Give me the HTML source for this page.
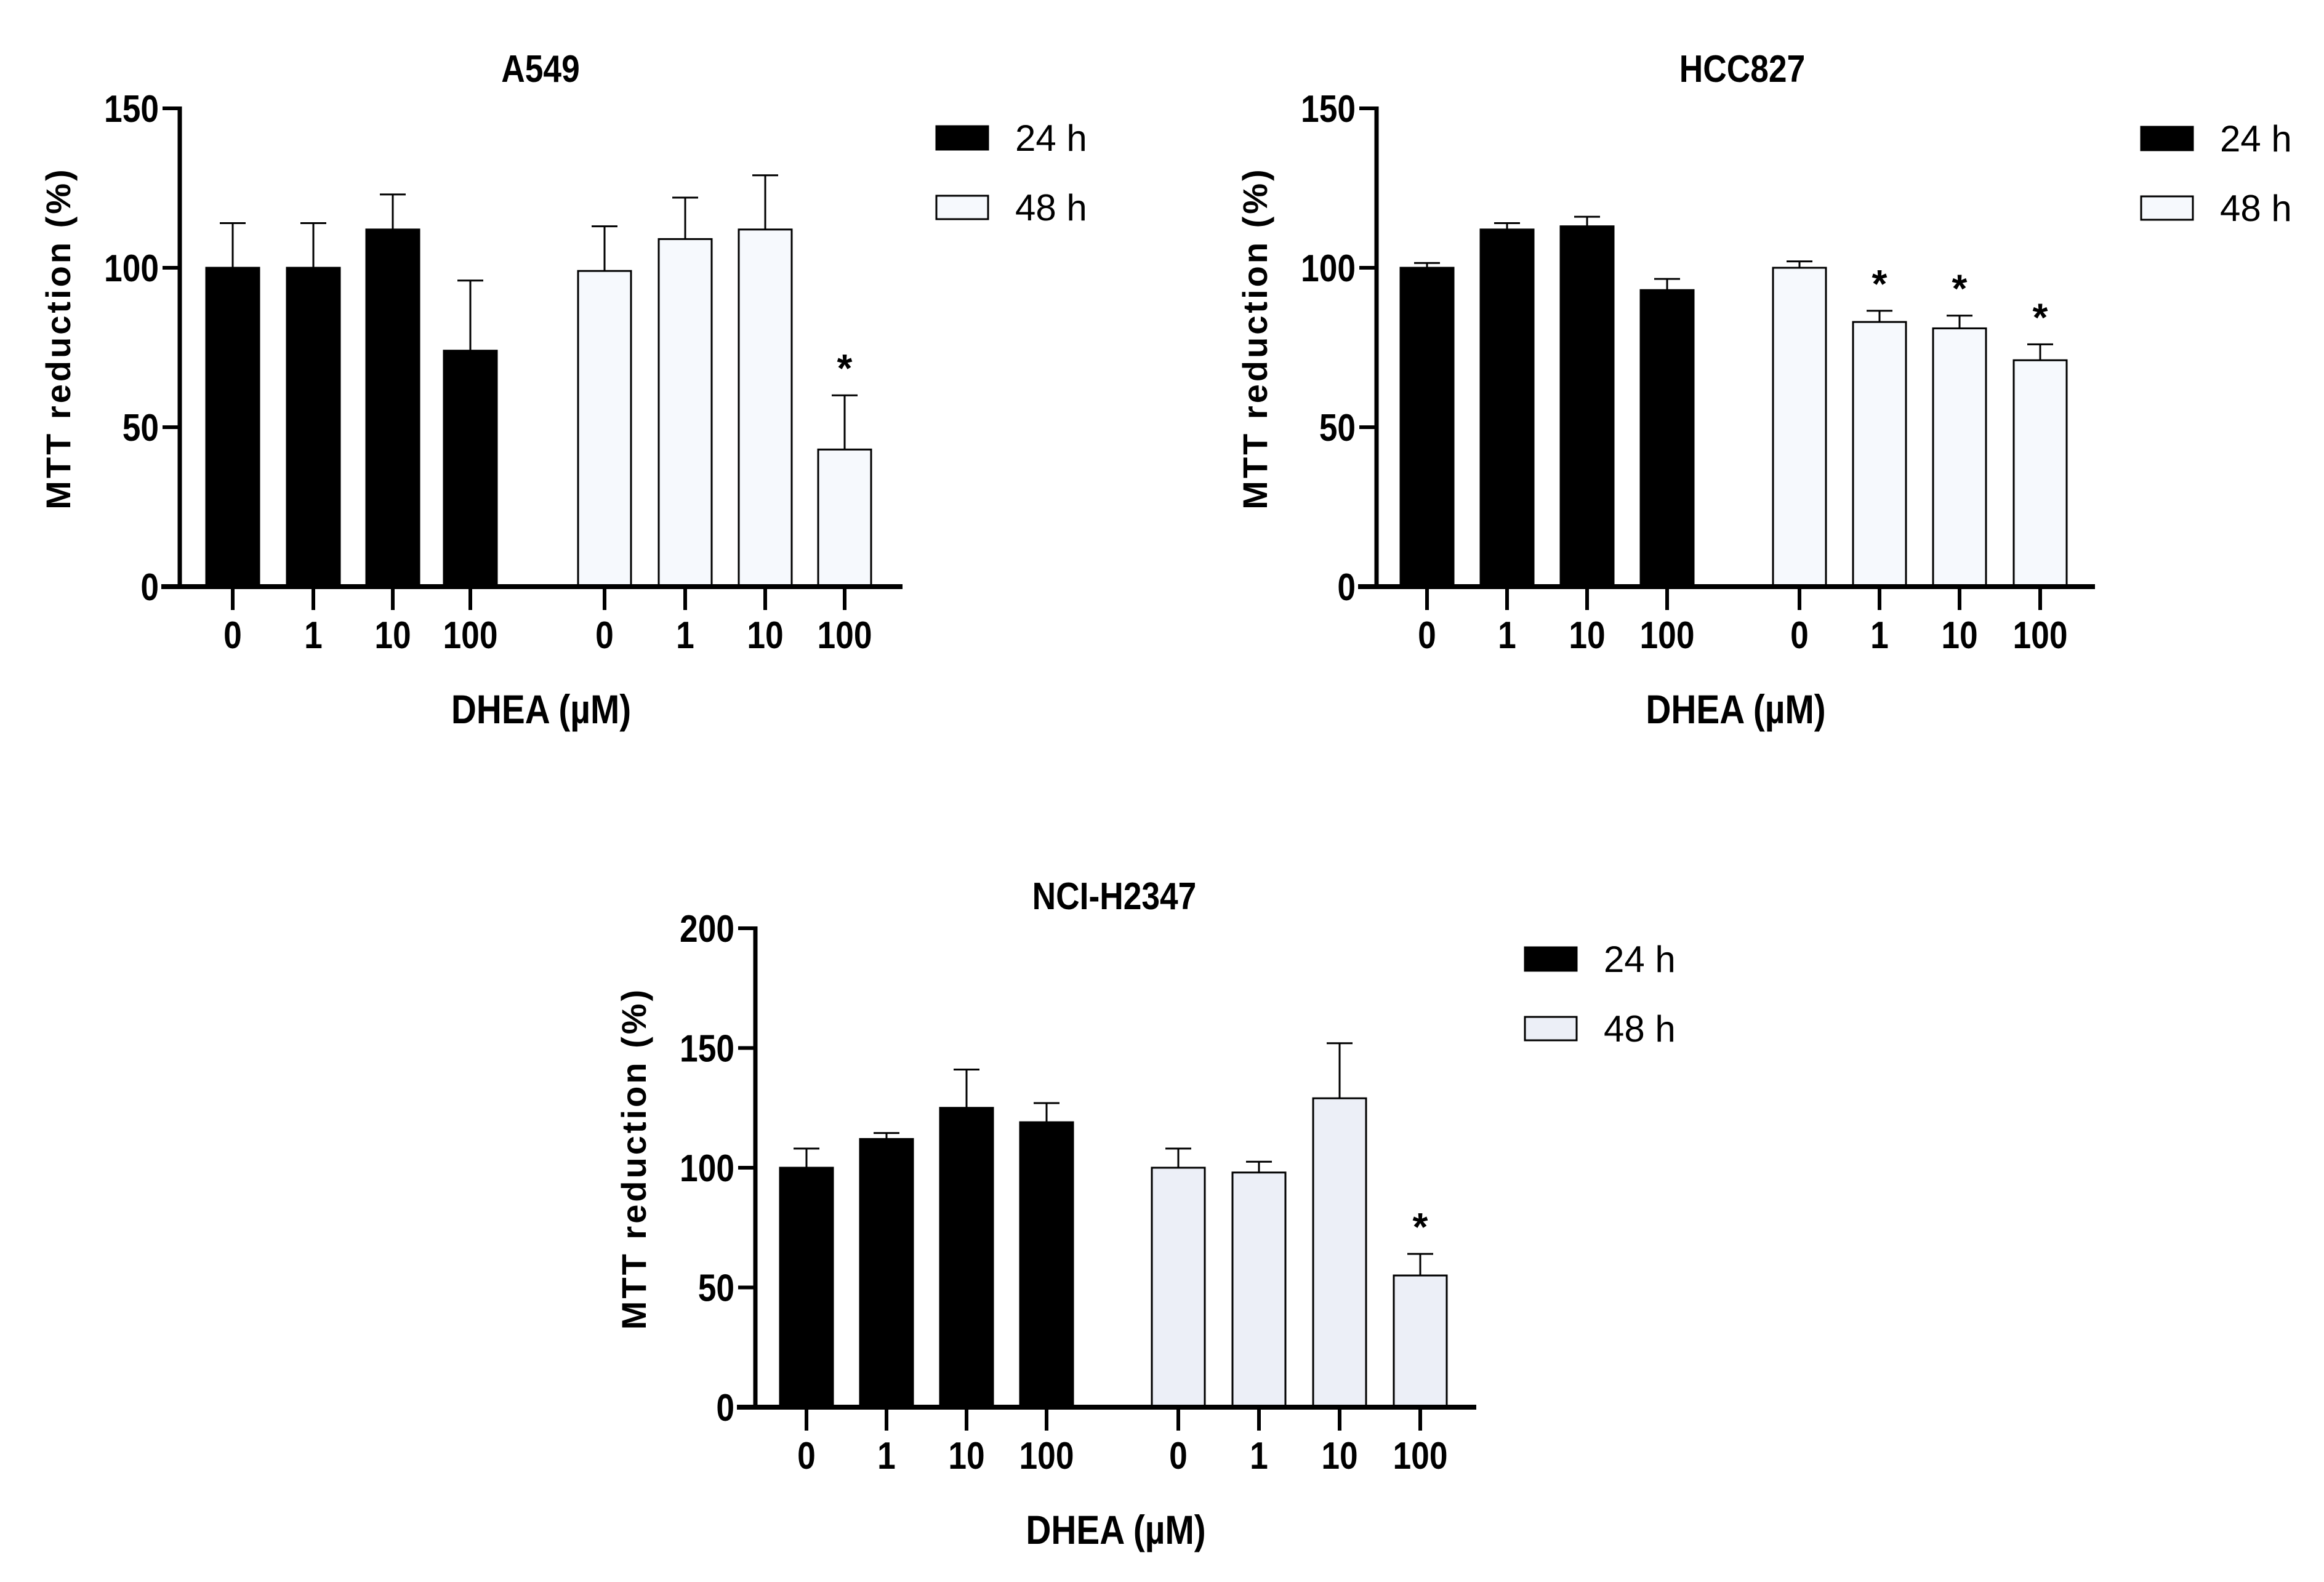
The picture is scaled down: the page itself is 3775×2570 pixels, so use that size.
<!DOCTYPE html>
<html><head><meta charset="utf-8">
<style>
html,body{margin:0;padding:0;background:#fff;}
svg{display:block;font-family:"Liberation Sans",Arial,sans-serif;}
</style></head>
<body>
<svg id="fig" xmlns="http://www.w3.org/2000/svg" width="3775" height="2570" viewBox="0 0 3775 2570"></svg>
<script>
// ---- data ----
const doseLabels = ["0","1","10","100"];
const seriesNames = ["24 h","48 h"];
const a549_24 = [100,100,112,74];
const a549_24err = [14,14,11,22];
const a549_48 = [99,109,112,43];
const a549_48err = [14,13,17,17];
const a549_48star = [false,false,false,true];
const hcc_24 = [100,112,113,93];
const hcc_24err = [1.5,2,3,3.5];
const hcc_48 = [100,83,81,71];
const hcc_48err = [2,3.5,4,5];
const hcc_48star = [false,true,true,true];
const nci_24 = [100,112,125,119];
const nci_24err = [8,2.5,16,8];
const nci_48 = [100,98,129,55];
const nci_48err = [8,4.5,23,9];
const nci_48star = [false,false,false,true];
const ticks150 = [0,50,100,150];
const ticks200 = [0,50,100,150,200];

const NS="http://www.w3.org/2000/svg";
const svg=document.getElementById('fig');
function mk(tag,attrs,parent,text){const e=document.createElementNS(NS,tag);for(const k in attrs)e.setAttribute(k,attrs[k]);if(text!==undefined)e.textContent=text;(parent||svg).appendChild(e);return e;}
function ctext(x,y,anchor,size,txt,parent,sx){
  return mk('text',{x:0,y:0,transform:`translate(${x},${y}) scale(${sx||0.86},1)`,'text-anchor':anchor,'font-size':size,'font-weight':'bold'},parent,txt);
}

function panel(p){
  const g=mk('g',{});
  
  
  const ymax=p.ticks[p.ticks.length-1];
  const yS=v=>p.y0-(v/ymax)*(p.y0-p.yTop);
  const t=ctext(p.titleX,p.titleY,'middle',62,p.title,g);
  
  
  const groups=[[p.s24,p.e24,null,'#000'],[p.s48,p.e48,p.star,p.fill48]];
  groups.forEach((gr,gi)=>{
    gr[0].forEach((v,i)=>{
      const cx=p.centers[gi*4+i];
      const top=yS(v), errTop=yS(v+gr[1][i]);
      const el=mk('line',{x1:cx,x2:cx,y1:top,y2:errTop,stroke:'#000','stroke-width':3},g);
      
      
      const cap=mk('line',{x1:cx-21,x2:cx+21,y1:errTop,y2:errTop,stroke:'#000','stroke-width':3},g);
      
      
      const r=mk('rect',{x:cx-43,y:top,width:86,height:p.y0-top,fill:gr[3],stroke:'#000','stroke-width':3},g);
      
      
      if(gr[2]&&gr[2][i]){
        const s=mk('text',{x:cx,y:errTop-22,'text-anchor':'middle','font-size':64,'font-weight':'bold'},g,'*');
        
        
      }
    });
  });
  const ya=mk('line',{x1:p.ax,x2:p.ax,y1:p.yTop-3,y2:p.y0+4,stroke:'#000','stroke-width':7},g);
  
  
  const xa=mk('line',{x1:p.ax-30,x2:p.xEnd,y1:p.y0,y2:p.y0,stroke:'#000','stroke-width':8},g);
  
  
  p.ticks.forEach(tv=>{
    const yy=yS(tv);
    mk('line',{x1:p.ax-28,x2:p.ax,y1:yy,y2:yy,stroke:'#000','stroke-width':6},g);
    const tl=ctext(p.ax-34,yy+22,'end',62,String(tv),g);
    
    
  });
  p.centers.forEach((cx,i)=>{
    mk('line',{x1:cx,x2:cx,y1:p.y0,y2:p.y0+38,stroke:'#000','stroke-width':6},g);
    const tl=ctext(cx,p.y0+100,'middle',62,doseLabels[i%4],g);
    
    
  });
  const xt=ctext((p.ax+p.xEnd)/2,p.y0+222,'middle',66,'DHEA (\u00b5M)',g);
  
  
  const yc=(p.y0+p.yTop)/2-15;
  const yt=mk('text',{x:0,y:0,transform:`translate(${p.ax-178},${yc}) rotate(-90)`,'text-anchor':'middle','font-size':56,'font-weight':'bold','letter-spacing':4},g,'MTT reduction (%)');
  
  
  [0,1].forEach(k=>{
    const ly=p.legY+k*113;
    const lr=mk('rect',{x:p.legX,y:ly,width:84,height:38,fill:k?p.fill48:'#000',stroke:'#000','stroke-width':3},g);
    
    
    const lt=mk('text',{x:p.legX+128,y:ly+40,'font-size':60},g,seriesNames[k]);
    
    
  });
}

panel({id:'a549',title:'A549',titleX:878,titleY:133,ax:292,xEnd:1466,y0:953,yTop:176,ticks:ticks150,
  centers:[378,509,638,764,982,1113,1243,1372],s24:a549_24,e24:a549_24err,s48:a549_48,e48:a549_48err,star:a549_48star,
  fill48:'#f6f9fd',legX:1521,legY:205});
panel({id:'hcc827',title:'HCC827',titleX:2830,titleY:133,ax:2236,xEnd:3403,y0:953,yTop:176,ticks:ticks150,
  centers:[2318,2448,2578,2708,2923,3053,3183,3314],s24:hcc_24,e24:hcc_24err,s48:hcc_48,e48:hcc_48err,star:hcc_48star,
  fill48:'#f6f9fd',legX:3478,legY:206});
panel({id:'nci-h2347',title:'NCI-H2347',titleX:1810,titleY:1477,ax:1227,xEnd:2398,y0:2286,yTop:1508,ticks:ticks200,
  centers:[1310,1440,1570,1700,1914,2045,2176,2307],s24:nci_24,e24:nci_24err,s48:nci_48,e48:nci_48err,star:nci_48star,
  fill48:'#eceff7',legX:2477,legY:1539});
</script>
</body></html>
